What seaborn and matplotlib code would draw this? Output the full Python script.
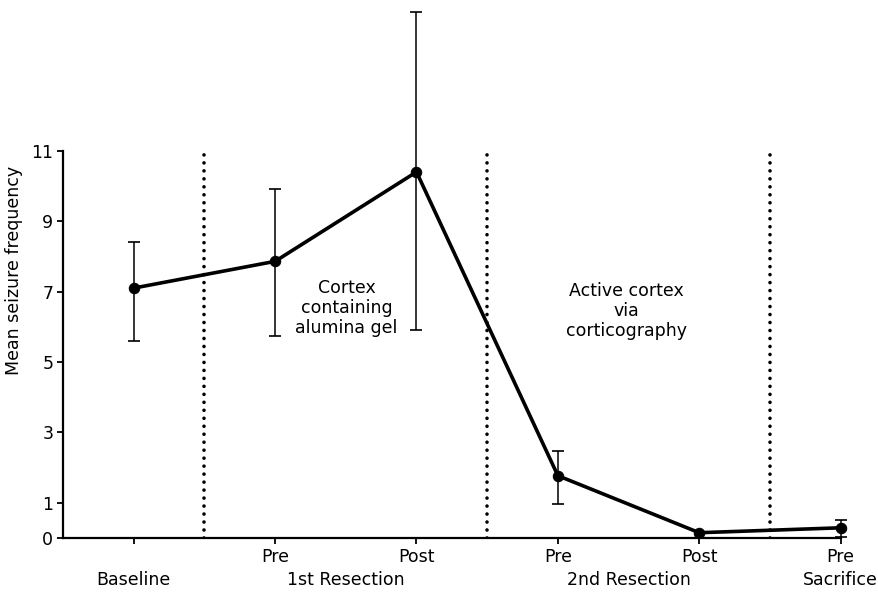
import matplotlib
matplotlib.use("Agg")
import matplotlib.pyplot as plt
import seaborn as sns
import numpy as np
import pandas as pd

# ---- data ----
positions = [0, 1, 2, 3, 4, 5]
tick_labels = ["", "Pre", "Post", "Pre", "Post", "Pre"]
mean_freq = [7.1, 7.86, 10.4, 1.77, 0.15, 0.29]
err_low = [5.6, 5.73, 5.9, 0.98, np.nan, 0.04]
err_high = [8.42, 9.91, 14.95, 2.48, np.nan, 0.52]
group_labels = ["Baseline", "1st Resection", "2nd Resection", "Sacrifice"]
group_centers = [0, 1.5, 3.5, 5]
divider_x = [0.5, 2.5, 4.5]
divider_top = 10.9
annotations = ["Cortex\ncontaining\nalumina gel", "Active cortex\nvia\ncorticography"]
annotation_xy = [(1.506, 6.53), (3.487, 6.45)]

sns.set_theme(style="white")
plt.rcParams["font.family"] = ["DejaVu Sans"]
FS = 12.5

fig = plt.figure(figsize=(8.79, 5.99), dpi=100)
ax = fig.add_axes([63 / 879, 61 / 599, (876 - 63) / 879, 535 / 599])

df = pd.DataFrame({"pos": positions, "mean": mean_freq})
lo = np.array(mean_freq) - np.array(err_low)
hi = np.array(err_high) - np.array(mean_freq)
ax.errorbar(positions, mean_freq, yerr=[lo, hi], fmt="none", ecolor="black",
            elinewidth=1.1, capsize=4.5, capthick=1.2, zorder=2)
sns.lineplot(data=df, x="pos", y="mean", ax=ax, color="black", linewidth=2.6,
             marker="o", markersize=7.5, markeredgecolor="black",
             markerfacecolor="black", zorder=3)

for xv in divider_x:
    ax.plot([xv, xv], [0, divider_top], color="black", linewidth=2.6,
            linestyle=(0, (0.01, 2.2)), dash_capstyle="round", zorder=1)

for txt, (xx, yy) in zip(annotations, annotation_xy):
    ax.text(xx, yy, txt, ha="center", va="center", fontsize=FS,
            linespacing=1.15, color="black")

ax.set_xlim(-0.5, 5.25)
ax.set_ylim(0, 15.2)
ax.set_yticks([0, 1, 3, 5, 7, 9, 11])
ax.set_yticklabels(["0", "1", "3", "5", "7", "9", "11"], fontsize=FS)
ax.set_xticks(positions)
ax.set_xticklabels(tick_labels, fontsize=FS)
ax.tick_params(axis="both", direction="out", length=4, width=1.3,
               color="black", labelcolor="black")
ax.tick_params(axis="x", pad=3, bottom=True)
ax.tick_params(axis="y", pad=3, left=True)

for s in ["top", "right"]:
    ax.spines[s].set_visible(False)
for s in ["left", "bottom"]:
    ax.spines[s].set_color("black")
    ax.spines[s].set_linewidth(1.6)
ax.spines["left"].set_bounds(0, 11)
ax.spines["bottom"].set_bounds(-0.5, 5)

ax.set_xlabel("")
ax.set_ylabel("Mean seizure frequency", fontsize=FS, color="black", labelpad=6)

for lab, xc in zip(group_labels, group_centers):
    ax.annotate(lab, xy=(xc, 0), xycoords=("data", "axes fraction"),
                xytext=(0, -30), textcoords="offset points",
                ha="center", va="center", fontsize=FS, color="black",
                annotation_clip=False)

fig.savefig("out.png", dpi=100)
